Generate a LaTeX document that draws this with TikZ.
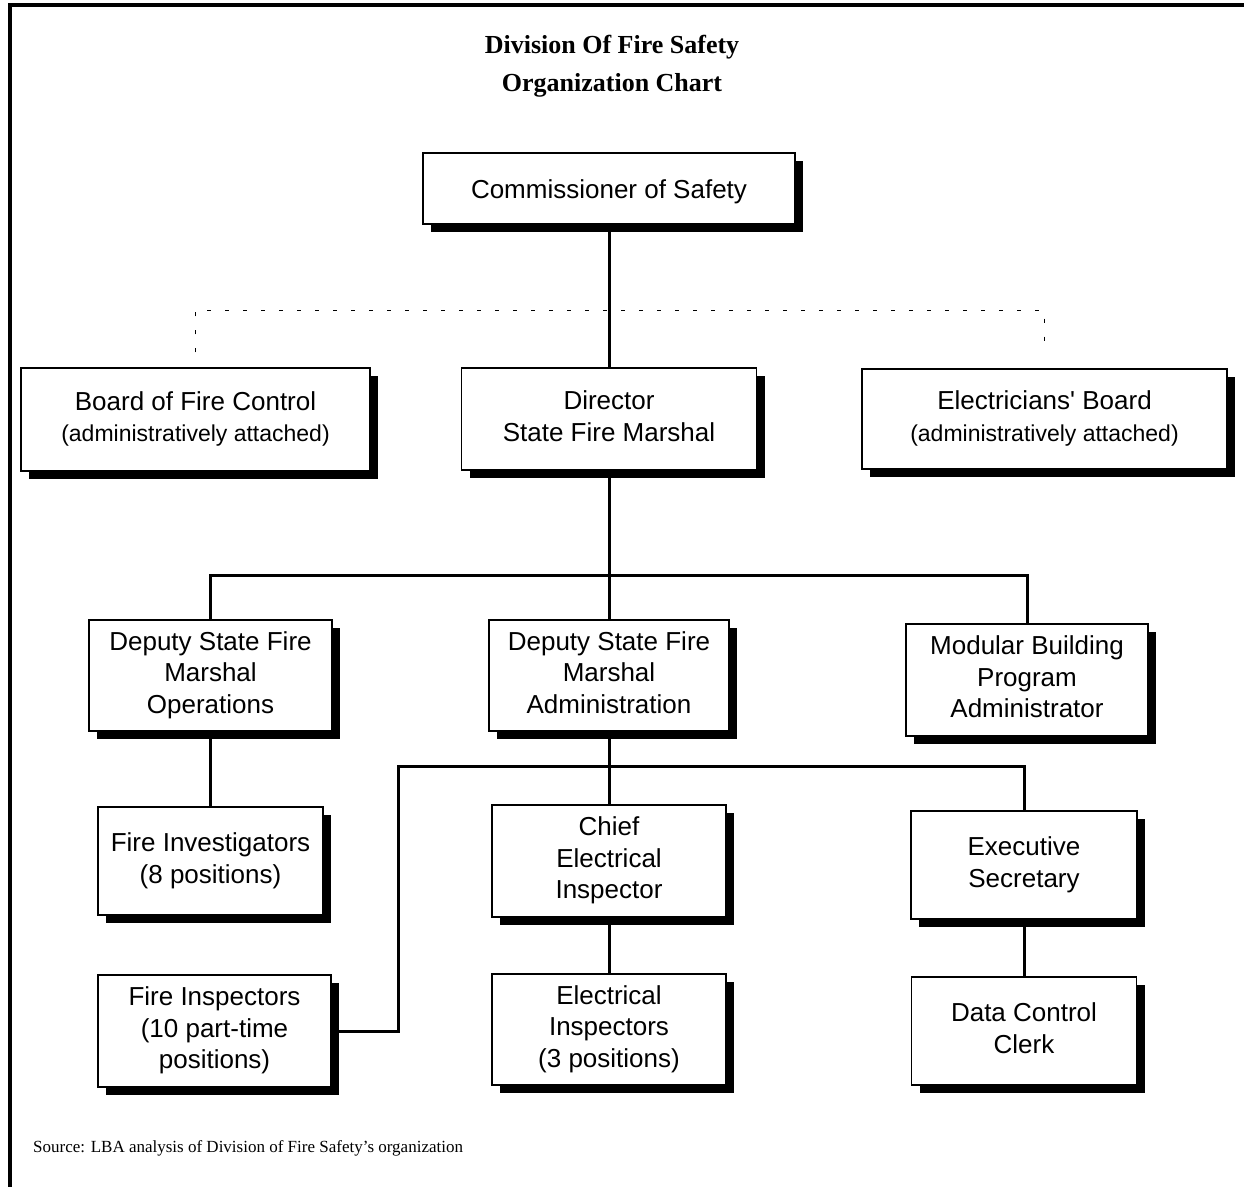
\documentclass[tikz,border=0pt]{standalone}
\usepackage{fontspec}
\setmainfont{Liberation Serif}
\newfontfamily\boxfont{Liberation Sans}
\usetikzlibrary{shadows,calc}
\begin{document}
\begin{tikzpicture}[x=1pt,y=-1pt,
  box/.style={draw=black, line width=1.3pt, fill=white, inner sep=0pt, align=center,
     font=\boxfont\fontsize{26}{31.5}\selectfont,
     execute at begin node={\rule{0pt}{26pt}},
     execute at end node={\rule[-6pt]{0pt}{6pt}},
     general shadow={fill=black, shadow xshift=8pt, shadow yshift=-8pt}},
  link/.style={line width=3pt},
  attach/.style={line width=1pt, dash pattern=on 4pt off 14pt}]
\useasboundingbox (0,0) rectangle (1244,1186);
% frame
\draw[line width=4pt, line join=miter] (1250,5.3) -- (9.5,5.3) -- (9.5,1192);
% title
\node[font=\bfseries\fontsize{26}{38}\selectfont, align=center] (title) at (612,66)
  {Division Of Fire Safety\\Organization Chart};
% boxes
\node[box, minimum width=372pt, minimum height=71pt] (comm) at (609,188.5) {Commissioner of Safety};
\node[box, minimum width=349pt, minimum height=103pt] (board) at (195.5,419.5)
  {Board of Fire Control\\{\fontsize{23}{31}\selectfont (administratively attached)}};
\node[box, minimum width=295pt, minimum height=102pt] (dir) at (609,419) {Director\\State Fire Marshal};
\node[box, minimum width=365pt, minimum height=100pt] (elec) at (1044.5,419)
  {Electricians' Board\\{\fontsize{23}{31}\selectfont (administratively attached)}};
\node[box, minimum width=243pt, minimum height=111pt] (depops) at (210.5,675.5) {Deputy State Fire\\Marshal\\Operations};
\node[box, minimum width=240pt, minimum height=111pt] (depadm) at (609,675.5) {Deputy State Fire\\Marshal\\Administration};
\node[box, minimum width=242pt, minimum height=112pt] (modular) at (1027,680) {Modular Building\\Program\\Administrator};
\node[box, minimum width=225pt, minimum height=108pt] (fireinv) at (210.5,861) {Fire Investigators\\(8 positions)};
\node[box, minimum width=233pt, minimum height=112pt] (fireinsp) at (214.5,1031) {Fire Inspectors\\(10 part-time\\positions)};
\node[box, minimum width=234pt, minimum height=112pt] (chief) at (609,861) {Chief\\Electrical\\Inspector};
\node[box, minimum width=234pt, minimum height=111pt] (elecinsp) at (609,1029.5) {Electrical\\Inspectors\\(3 positions)};
\node[box, minimum width=226pt, minimum height=108pt] (execsec) at (1024,865) {Executive\\Secretary};
\node[box, minimum width=225pt, minimum height=108pt] (clerk) at (1024,1031) {Data Control\\Clerk};
% helper coordinates
\coordinate (bus1) at (609,575);
\coordinate (bus2) at (609,766);
\coordinate (fic) at (398,766);
\coordinate (dots) at (609,310);
% connectors
\draw[link] (comm.south) -- (dir.north);
\draw[link] (dir.south) -- (depadm.north);
\draw[link] (depops.north) -- (depops.north |- bus1) -- (modular.north |- bus1) -- (modular.north);
\draw[link] (depops.south) -- (fireinv.north);
\draw[link] (depadm.south) -- (chief.north);
\draw[link] (chief.south) -- (elecinsp.north);
\draw[link] (fireinsp.east) -| (fic) -| (execsec.north);
\draw[link] (execsec.south) -- (clerk.north);
\draw[attach] ($(board.north)+(0,-15)$) -- (board.north |- dots) -- (elec.north |- dots) -- ($(elec.north)+(0,-16)$);
% source
\node[anchor=west, font=\fontsize{17}{20}\selectfont, inner sep=0pt] (src) at (33,1148)
  {Source: LBA analysis of Division of Fire Safety’s organization};
\end{tikzpicture}
\end{document}
